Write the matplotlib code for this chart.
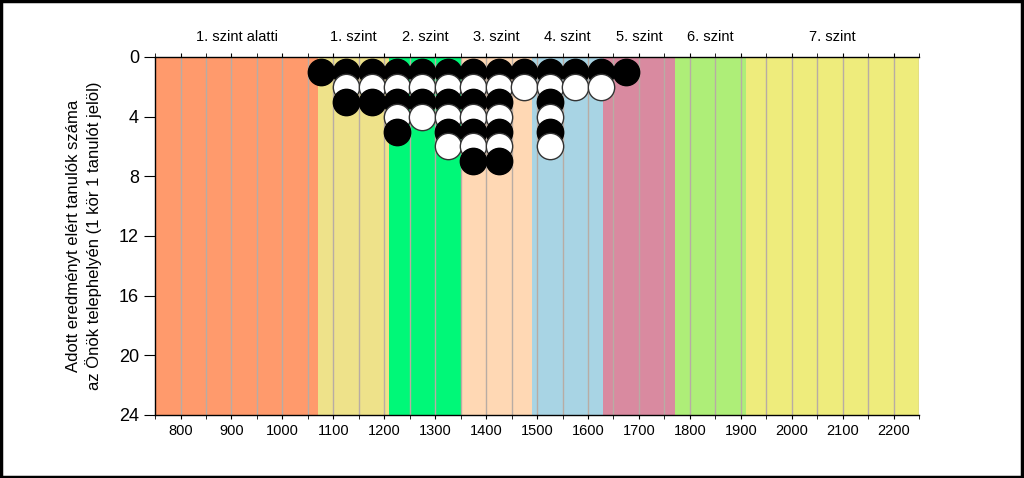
import matplotlib
matplotlib.use('Agg')
import matplotlib.pyplot as plt
from matplotlib.patches import Rectangle

plt.rcParams['font.family'] = ['Liberation Sans', 'DejaVu Sans']

# score bands (level name, start, end, colour)
band_names = ['1. szint alatti', '1. szint', '2. szint', '3. szint',
              '4. szint', '5. szint', '6. szint', '7. szint']
band_edges = [750, 1070, 1210, 1350, 1490, 1630, 1770, 1910, 2250]
band_colors = ['#FF9A6C', '#EEE28A', '#00F878', '#FFD8B4',
               '#A8D4E4', '#D98AA0', '#AEEE78', '#EEEC7C']

# students per 50-point bin (bin centres)
bin_centres = [1075, 1125, 1175, 1225, 1275, 1325, 1375, 1425,
               1475, 1525, 1575, 1625, 1675]
counts = [1, 3, 3, 5, 4, 6, 7, 7, 2, 6, 2, 2, 1]

fig = plt.figure(figsize=(10.24, 4.78), dpi=100)
ax = fig.add_axes([0.1514, 0.1318, 0.7461, 0.749])

for i, name in enumerate(band_names):
    x0, x1 = band_edges[i], band_edges[i + 1]
    ax.axvspan(x0, x1, color=band_colors[i], zorder=0, lw=0)
    ax.text((x0 + x1) / 2, -0.9, name, ha='center', va='bottom',
            fontsize=10.5)

for gx in range(800, 2251, 50):
    ax.axvline(gx, color='#b8aca4', lw=1, zorder=1)

for xc, n in zip(bin_centres, counts):
    for k in range(1, n + 1):
        if k % 2 == 1:
            ax.scatter(xc, k, s=360, facecolor='black', edgecolor='black',
                       lw=1, zorder=3 + k)
        else:
            ax.scatter(xc, k, s=360, facecolor='white', edgecolor='#333333',
                       lw=1, zorder=3 + k)

ax.set_xlim(750, 2250)
ax.set_ylim(24, 0)
ax.set_xticks(range(800, 2201, 100))
ax.set_xticks(range(750, 2251, 50), minor=True)
ax.set_yticks(range(0, 25, 4))
ax.tick_params(axis='x', which='major', labelsize=10.5, length=3,
               top=True, direction='out')
ax.tick_params(axis='x', which='minor', length=3, top=True, direction='out')
ax.tick_params(axis='y', labelsize=13, length=8, direction='out')
ax.spines['right'].set_visible(False)
for s in ['top', 'bottom', 'left']:
    ax.spines[s].set_color('black')
    ax.spines[s].set_linewidth(1)

ax.set_ylabel('Adott eredményt elért tanulók száma\naz Önök telephelyén (1 kör 1 tanulót jelöl)',
              fontsize=12, labelpad=12, linespacing=1.3)

fig.patches.append(Rectangle((0.001, 0.002), 0.997, 0.995, transform=fig.transFigure,
                             fill=False, edgecolor='black', lw=2.5))

fig.savefig('out.png', dpi=100)
